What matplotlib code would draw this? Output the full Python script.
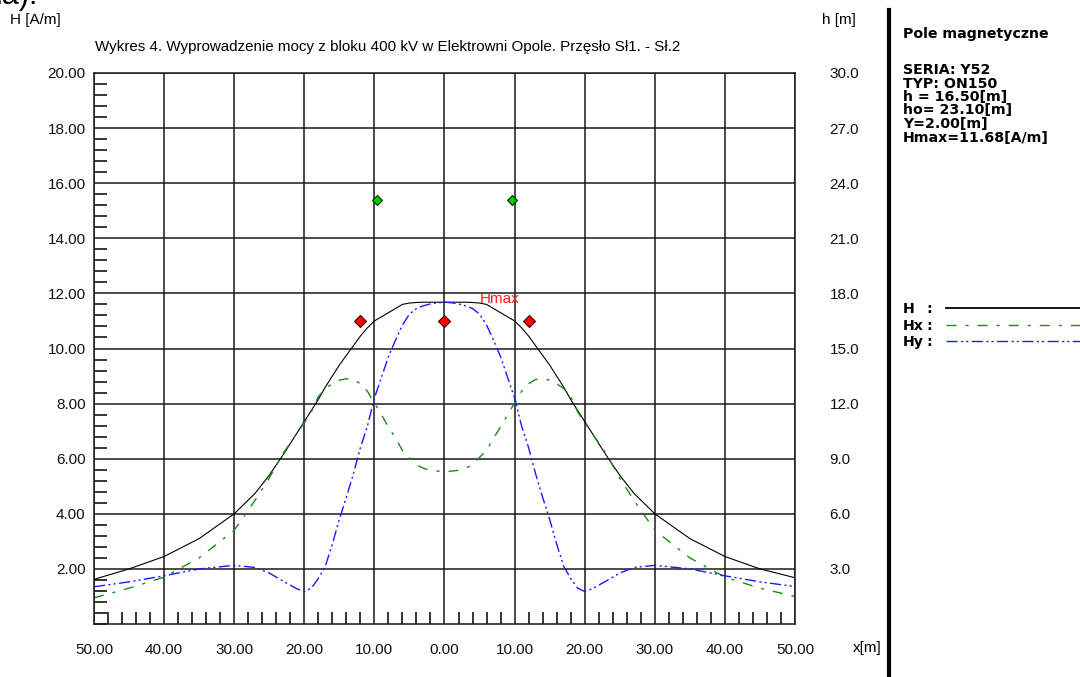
import numpy as np
import matplotlib
matplotlib.use('Agg')
from matplotlib import pyplot as plt
from matplotlib.ticker import MultipleLocator, FuncFormatter
from matplotlib.lines import Line2D

plt.rcParams['font.family'] = ['Liberation Sans', 'DejaVu Sans']

# distance from line axis [m]
x = [-50, -45, -40, -35, -30, -27, -25, -23, -21, -20, -19, -18, -17, -16, -15,
     -14, -13, -12, -11, -10, -9, -8, -7, -6, -5, -4, -3, -2, -1, 0,
     1, 2, 3, 4, 5, 6, 7, 8, 9, 10, 11, 12, 13, 14, 15, 16, 17, 18, 19, 20,
     21, 23, 25, 27, 30, 35, 40, 45, 50]

# magnetic field [A/m]
H = [1.62, 2.0, 2.45, 3.1, 4.0, 4.75, 5.4, 6.15, 6.95, 7.35, 7.75, 8.15, 8.6, 9.0, 9.4,
     9.75, 10.1, 10.45, 10.75, 11.0, 11.15, 11.3, 11.45, 11.6, 11.65, 11.67, 11.68, 11.68, 11.68, 11.68,
     11.68, 11.68, 11.68, 11.67, 11.65, 11.6, 11.45, 11.3, 11.15, 11.0, 10.75, 10.45, 10.1, 9.75, 9.4,
     9.0, 8.6, 8.15, 7.75, 7.35, 6.95, 6.15, 5.4, 4.75, 4.0, 3.1, 2.45, 2.0, 1.68]
Hx = [0.95, 1.3, 1.7, 2.4, 3.4, 4.5, 5.3, 6.2, 6.95, 7.3, 7.7, 8.25, 8.55, 8.72, 8.85,
      8.9, 8.88, 8.72, 8.45, 8.02, 7.6, 7.15, 6.75, 6.3, 6.05, 5.78, 5.65, 5.58, 5.55, 5.53,
      5.55, 5.58, 5.65, 5.78, 6.05, 6.3, 6.75, 7.15, 7.6, 8.02, 8.45, 8.72, 8.88, 8.9, 8.85,
      8.72, 8.55, 8.25, 7.7, 7.3, 6.95, 6.2, 5.3, 4.5, 3.4, 2.4, 1.7, 1.3, 1.0]
Hy = [1.35, 1.53, 1.75, 2.0, 2.13, 2.05, 1.85, 1.55, 1.27, 1.18, 1.3, 1.65, 2.1, 2.9, 3.8,
      4.6, 5.45, 6.4, 7.18, 8.2, 8.95, 9.7, 10.3, 10.85, 11.25, 11.45, 11.55, 11.62, 11.66, 11.68,
      11.66, 11.62, 11.55, 11.45, 11.25, 10.85, 10.3, 9.7, 8.95, 8.2, 7.18, 6.4, 5.45, 4.6, 3.8,
      2.9, 2.1, 1.65, 1.3, 1.18, 1.27, 1.55, 1.85, 2.05, 2.13, 2.0, 1.75, 1.53, 1.36]

# conductors: phase wires and earth wires (x [m], h [m])
phase_x = [-12, 0, 12]
phase_h = [16.5, 16.5, 16.5]
earth_x = [-9.7, 9.7]
earth_h = [23.1, 23.1]

info = ['SERIA: Y52', 'TYP: ON150', 'h = 16.50[m]', 'ho= 23.10[m]',
        'Y=2.00[m]', 'Hmax=11.68[A/m]']

GREEN = '#1a8a1a'
BLUE = '#1a1aff'
LS_HX = (0, (7.2, 6.5, 2.2, 6.5))
LS_HY = (0, (8, 2.5, 1.5, 2.2, 1.5, 2.5))

W, HGT = 1080, 677
def fx(px):
    return px / W
def fy(py):
    return 1 - py / HGT

fig = plt.figure(figsize=(10.8, 6.77), dpi=100)
fig.patch.set_facecolor('white')

ax = fig.add_axes([fx(94), fy(624), (795 - 94) / W, (624 - 73) / HGT])
ax.set_xlim(-50, 50)
ax.set_ylim(0, 20)
ax.set_xticks(np.arange(-50, 51, 10))
ax.set_yticks(np.arange(2, 20.1, 2))
ax.xaxis.set_minor_locator(MultipleLocator(2))
ax.yaxis.set_minor_locator(MultipleLocator(0.4))
ax.xaxis.set_major_formatter(FuncFormatter(lambda v, p: '%.2f' % abs(v)))
ax.yaxis.set_major_formatter(FuncFormatter(lambda v, p: '%.2f' % v))
ax.tick_params(which='major', length=0, labelsize=11, colors='#111111')
ax.tick_params(axis='x', which='major', pad=14)
ax.tick_params(axis='y', which='major', pad=6)
ax.tick_params(which='minor', direction='in', width=1.1, color='black')
ax.tick_params(axis='x', which='minor', length=8.6)
ax.tick_params(axis='y', which='minor', length=9.4)
ax.grid(True, which='major', color='#1a1a1a', lw=1.1)
ax.set_axisbelow(True)
for s in ax.spines.values():
    s.set_color('#1a1a1a')
    s.set_linewidth(1.1)

ax.plot(x, H, color='black', lw=0.8)
ax.plot(x, Hx, color=GREEN, lw=1.0, linestyle=LS_HX)
ax.plot(x, Hy, color=BLUE, lw=1.0, linestyle=LS_HY)
ax.text(5.0, 11.81, 'Hmax', color='#ff2020', fontsize=11, va='center', ha='left')

ax2 = ax.twinx()
ax2.set_ylim(0, 30)
ax2.set_yticks(np.arange(3, 30.1, 3))
ax2.yaxis.set_major_formatter(FuncFormatter(lambda v, p: '%.1f' % v))
ax2.tick_params(length=0, pad=25, labelsize=11, colors='#111111')
for s in ax2.spines.values():
    s.set_visible(False)
ax2.plot(phase_x, phase_h, 'D', color='#ff0000', mec='#400000', mew=0.8, ms=6, ls='none')
ax2.plot(earth_x, earth_h, 'D', color='#00cc00', mec='#003000', mew=0.8, ms=5, ls='none')

# axis captions and title
fig.text(fx(10), fy(20), 'H [A/m]', fontsize=11, va='center', ha='left')
fig.text(fx(822), fy(20), 'h [m]', fontsize=11, va='center', ha='left')
fig.text(fx(853), fy(648), 'x[m]', fontsize=11, va='center', ha='left')
fig.text(fx(95), fy(47), 'Wykres 4. Wyprowadzenie mocy z bloku 400 kV w Elektrowni Opole. '
         'Przęsło Sł1. - Sł.2', fontsize=10.9, va='center', ha='left')
fig.text(fx(-4), fy(4), 'ła).', fontsize=22, va='baseline', ha='left')

# right info panel
bold = dict(family='DejaVu Sans', fontsize=10.2, fontweight='bold')
fig.add_artist(Line2D([fx(889), fx(889)], [fy(10), fy(677)], color='black', lw=3))
fig.text(fx(903), fy(38), 'Pole magnetyczne', va='baseline', **bold)
for i, line in enumerate(info):
    fig.text(fx(903), fy(74 + 13.5 * i), line, va='baseline', **bold)

leg_names = ['H', 'Hx', 'Hy']
leg_styles = [('black', '-'), (GREEN, LS_HX), (BLUE, LS_HY)]
for i, name in enumerate(leg_names):
    yy = 308 + 16.5 * i
    fig.text(fx(903), fy(yy + 5), name, va='baseline', **bold)
    fig.text(fx(926), fy(yy + 5), ':', va='baseline', **bold)
    col, ls = leg_styles[i]
    lw = 1.3 if ls == '-' else 1.0
    fig.add_artist(Line2D([fx(946), fx(1080)], [fy(yy), fy(yy)], color=col, lw=lw, linestyle=ls))

fig.savefig('out.png', dpi=100)
